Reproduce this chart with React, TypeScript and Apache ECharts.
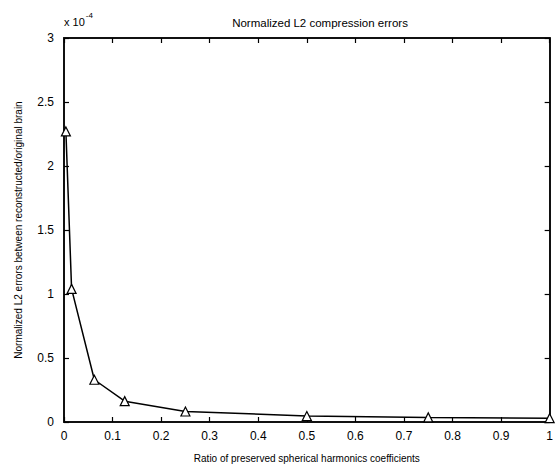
import React, { useEffect, useRef } from "react";
import * as echarts from "echarts";

const ratios = [0.00390625, 0.015625, 0.0625, 0.125, 0.25, 0.5, 0.75, 1.0];
const errors = [2.27, 1.04, 0.33, 0.163, 0.082, 0.047, 0.036, 0.03]; // x 1e-4
const xTicks = [0, 0.1, 0.2, 0.3, 0.4, 0.5, 0.6, 0.7, 0.8, 0.9, 1];
const yTicks = [0, 0.5, 1, 1.5, 2, 2.5, 3];

const FONT = "'Liberation Sans', Arial, Helvetica, sans-serif";

export default function App() {
  const ref = useRef<HTMLDivElement>(null);
  useEffect(() => {
    document.body.style.margin = "0";
    document.body.style.overflow = "hidden";
    if (!ref.current) return;
    const chart = echarts.init(ref.current, null, { renderer: "svg" });
    const fmt = (v: number) => String(Math.round(v * 10) / 10);
    const mkAxis = () => ({
      axisLine: { show: true, onZero: false, lineStyle: { color: "#111", width: 2 } },
      axisTick: { show: true, inside: true, length: 5, lineStyle: { color: "#000", width: 1.2 } },
      splitLine: { show: false },
    });
    chart.setOption({
      animation: false,
      backgroundColor: "#fff",
      title: {
        text: "Normalized L2 compression errors",
        left: 315,
        textAlign: "center",
        top: 12,
        textStyle: { fontFamily: FONT, fontSize: 11.5, fontWeight: "normal", color: "#000" },
      },
      graphic: [
        {
          type: "text",
          left: 64,
          top: 11,
          style: {
            text: "{a|x 10}{b|-4}",
            rich: {
              a: { fontFamily: FONT, fontSize: 11, fill: "#000", verticalAlign: "bottom" },
              b: { fontFamily: FONT, fontSize: 8, fill: "#000", padding: [0, 0, 8, 1] },
            },
          },
        },
      ],
      grid: { left: 64, right: 1, top: 38, bottom: 43, containLabel: false },
      xAxis: [
        {
          type: "value",
          min: 0,
          max: 1,
          interval: 0.1,
          ...mkAxis(),
          axisLabel: {
            color: "#000",
            fontFamily: FONT,
            fontSize: 12,
            margin: 8,
            formatter: fmt,
          },
          name: "Ratio of preserved spherical harmonics coefficients",
          nameLocation: "middle",
          nameGap: 31,
          nameTextStyle: { fontFamily: FONT, fontSize: 10, color: "#000" },
        },
        {
          type: "value",
          position: "top",
          min: 0,
          max: 1,
          interval: 0.1,
          ...mkAxis(),
          axisLabel: { show: false },
        },
      ],
      yAxis: [
        {
          type: "value",
          min: 0,
          max: 3,
          interval: 0.5,
          ...mkAxis(),
          axisLabel: {
            color: "#000",
            fontFamily: FONT,
            fontSize: 12,
            margin: 10,
            formatter: fmt,
          },
          name: "Normalized L2 errors between reconstructed/original brain",
          nameLocation: "middle",
          nameGap: 41,
          nameTextStyle: { fontFamily: FONT, fontSize: 10, color: "#000" },
        },
        {
          type: "value",
          position: "right",
          min: 0,
          max: 3,
          interval: 0.5,
          ...mkAxis(),
          axisLabel: { show: false },
        },
      ],
      series: [
        {
          type: "line",
          data: ratios.map((r, i) => [r, errors[i]]),
          symbol: "triangle",
          symbolSize: 9,
          showAllSymbol: true,
          clip: false,
          lineStyle: { color: "#000", width: 1.5 },
          itemStyle: { color: "#fff", borderColor: "#000", borderWidth: 1.2 },
        },
      ],
    });
    return () => chart.dispose();
  }, []);
  return (
    <div
      ref={ref}
      style={{ position: "absolute", left: 0, top: 0, width: 556, height: 468 }}
    />
  );
}
